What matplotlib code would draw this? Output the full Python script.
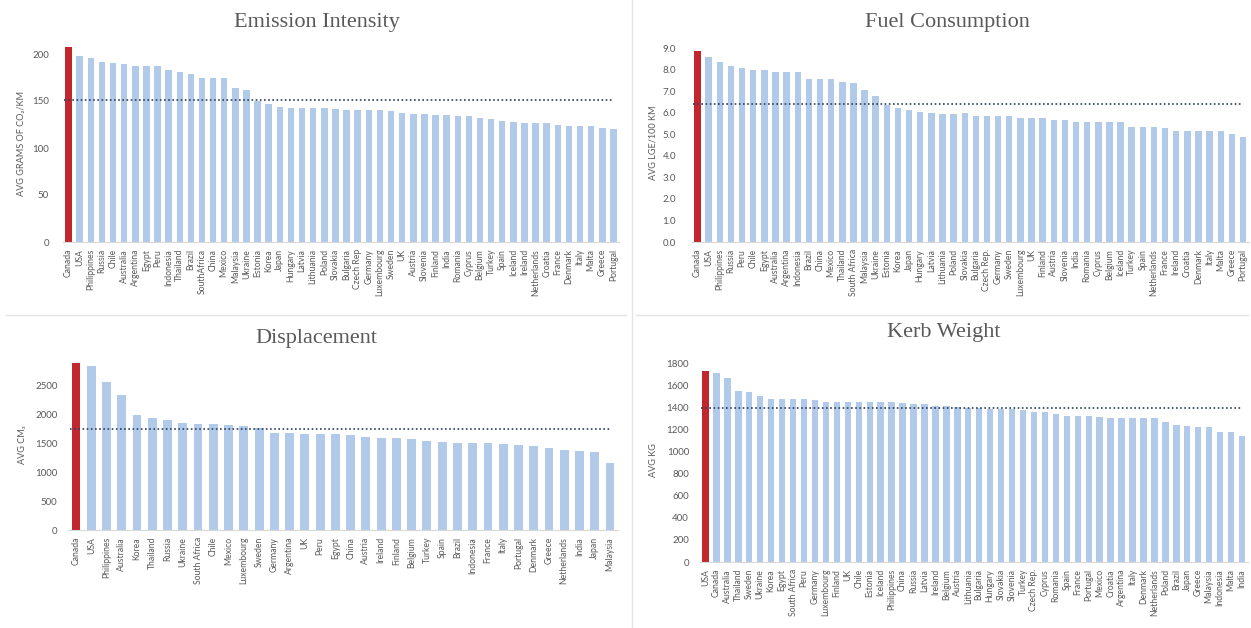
#!/usr/bin/env python3

"""Four panel bar chart comparing average vehicle figures by country."""

import matplotlib
matplotlib.use('Agg')
import matplotlib.pyplot as plt


WIDTH_PX = 1251
HEIGHT_PX = 628

emission_countries = [
    'Canada', 'USA', 'Philippines', 'Russia', 'Chile', 'Australia', 'Argentina', 'Egypt', 'Peru',
    'Indonesia', 'Thailand', 'Brazil', 'SouthAfrica', 'China', 'Mexico', 'Malaysia', 'Ukraine',
    'Estonia', 'Korea', 'Japan', 'Hungary', 'Latvia', 'Lithuania', 'Poland', 'Slovakia', 'Bulgaria',
    'Czech Rep', 'Germany', 'Luxembourg', 'Sweden', 'UK', 'Austria', 'Slovenia', 'Finland', 'India',
    'Romania', 'Cyprus', 'Belgium', 'Turkey', 'Spain', 'Iceland', 'Ireland', 'Netherlands', 'Croatia',
    'France', 'Denmark', 'Italy', 'Malta', 'Greece', 'Portugal'
]
emission_values = [
    207, 198, 196, 191, 190, 189, 187, 187, 187, 183, 181, 179, 175, 174, 174, 164, 162,
    150, 147, 144, 143, 143, 143, 143, 142, 140, 140, 140, 140, 139, 137, 136, 136, 135, 135,
    134, 134, 132, 131, 129, 128, 127, 127, 127, 124, 123, 123, 123, 121, 120
]
emission_avg = 151

fuel_countries = [
    'Canada', 'USA', 'Philippines', 'Russia', 'Peru', 'Chile', 'Egypt', 'Australia', 'Argentina',
    'Indonesia', 'Brazil', 'China', 'Mexico', 'Thailand', 'South Africa', 'Malaysia', 'Ukraine',
    'Estonia', 'Korea', 'Japan', 'Hungary', 'Latvia', 'Lithuania', 'Poland', 'Slovakia', 'Bulgaria',
    'Czech Rep.', 'Germany', 'Sweden', 'Luxembourg', 'UK', 'Finland', 'Austria', 'Slovenia', 'India',
    'Romania', 'Cyprus', 'Belgium', 'Iceland', 'Turkey', 'Spain', 'Netherlands', 'France', 'Ireland',
    'Croatia', 'Denmark', 'Italy', 'Malta', 'Greece', 'Portugal'
]
fuel_values = [
    8.87, 8.58, 8.38, 8.18, 8.07, 7.99, 7.99, 7.88, 7.88, 7.88, 7.57, 7.57, 7.57, 7.45, 7.37, 7.06, 6.79,
    6.37, 6.24, 6.14, 6.06, 5.98, 5.96, 5.96, 5.98, 5.87, 5.87, 5.87, 5.87, 5.78, 5.78, 5.78, 5.67, 5.67,
    5.59, 5.59, 5.59, 5.59, 5.56, 5.36, 5.36, 5.36, 5.29, 5.18, 5.18, 5.18, 5.18, 5.18, 5.02, 4.90
]
fuel_avg = 6.40

displacement_countries = [
    'Canada', 'USA', 'Philippines', 'Australia', 'Korea', 'Thailand', 'Russia', 'Ukraine',
    'South Africa', 'Chile', 'Mexico', 'Luxembourg', 'Sweden', 'Germany', 'Argentina', 'UK', 'Peru',
    'Egypt', 'China', 'Austria', 'Ireland', 'Finland', 'Belgium', 'Turkey', 'Spain', 'Brazil',
    'Indonesia', 'France', 'Italy', 'Portugal', 'Denmark', 'Greece', 'Netherlands', 'India', 'Japan',
    'Malaysia'
]
displacement_values = [
    2905, 2847, 2564, 2344, 1997, 1950, 1910, 1863, 1840, 1834, 1823, 1806, 1765, 1690, 1678, 1667, 1667,
    1667, 1649, 1609, 1603, 1591, 1580, 1551, 1534, 1516, 1516, 1505, 1493, 1476, 1458, 1418, 1389, 1372,
    1354, 1169
]
displacement_avg = 1748

kerb_countries = [
    'USA', 'Canada', 'Australia', 'Thailand', 'Sweden', 'Ukraine', 'Korea', 'Egypt', 'South Africa',
    'Peru', 'Germany', 'Luxembourg', 'Finland', 'UK', 'Chile', 'Estonia', 'Iceland', 'Philippines',
    'China', 'Russia', 'Latvia', 'Ireland', 'Belgium', 'Austria', 'Lithuania', 'Bulgaria', 'Hungary',
    'Slovakia', 'Slovenia', 'Turkey', 'Czech Rep.', 'Cyprus', 'Romania', 'Spain', 'France', 'Portugal',
    'Mexico', 'Croatia', 'Argentina', 'Italy', 'Denmark', 'Netherlands', 'Poland', 'Brazil', 'Japan',
    'Greece', 'Malaysia', 'Indonesia', 'Malta', 'India'
]
kerb_values = [
    1730, 1715, 1664, 1553, 1538, 1504, 1477, 1477, 1477, 1477, 1468, 1453, 1453, 1453, 1453, 1453, 1453,
    1447, 1438, 1432, 1429, 1414, 1410, 1402, 1399, 1393, 1387, 1387, 1384, 1378, 1357, 1357, 1339, 1327,
    1327, 1327, 1312, 1308, 1308, 1308, 1302, 1302, 1266, 1242, 1233, 1227, 1221, 1182, 1176, 1146
]
kerb_avg = 1393


BAR_COLOR = '#B1CAEA'
HIGHLIGHT_COLOR = '#C1272D'
AVG_COLOR = '#2E3F5C'
TEXT_COLOR = '#595959'
SANS = ['Lato', 'DejaVu Sans']
SERIF = ['Liberation Serif', 'DejaVu Serif']

# axes box in pixels (left, top, right, bottom), y range, tick step, label formats
panels = [
    {
        'title': 'Emission Intensity', 'title_xy': (317, 22),
        'ylabel': 'AVG GRAMS OF CO\u2082/KM', 'ylabel_x': 22,
        'countries': emission_countries, 'values': emission_values, 'avg': emission_avg,
        'box': (63, 44.6, 619, 242), 'ylim': (0, 210), 'ystep': 50, 'yfmt': '{:.0f}', 'ypad': 14,
    },
    {
        'title': 'Fuel Consumption', 'title_xy': (947, 22),
        'ylabel': 'AVG LGE/100 KM', 'ylabel_x': 653,
        'countries': fuel_countries, 'values': fuel_values, 'avg': fuel_avg,
        'box': (692, 44, 1248.6, 242), 'ylim': (0, 9.2), 'ystep': 1.0, 'yfmt': '{:.1f}', 'ypad': 16,
    },
    {
        'title': 'Displacement', 'title_xy': (316, 338),
        'ylabel': 'AVG CM\u2083', 'ylabel_x': 23,
        'countries': displacement_countries, 'values': displacement_values, 'avg': displacement_avg,
        'box': (68.4, 360, 617.6, 530), 'ylim': (0, 2950), 'ystep': 500, 'yfmt': '{:.0f}', 'ypad': 11,
    },
    {
        'title': 'Kerb Weight', 'title_xy': (944, 332),
        'ylabel': 'AVG KG', 'ylabel_x': 654,
        'countries': kerb_countries, 'values': kerb_values, 'avg': kerb_avg,
        'box': (700, 357.8, 1247.5, 562), 'ylim': (0, 1850), 'ystep': 200, 'yfmt': '{:.0f}', 'ypad': 11,
    },
]


def fig_box(box):
    left, top, right, bottom = box
    return [left / WIDTH_PX, 1 - bottom / HEIGHT_PX, (right - left) / WIDTH_PX, (bottom - top) / HEIGHT_PX]


def draw_panel(fig, panel):
    axes = fig.add_axes(fig_box(panel['box']))
    countries = panel['countries']
    values = panel['values']
    count = len(countries)
    colors = [HIGHLIGHT_COLOR] + [BAR_COLOR] * (count - 1)
    axes.bar(range(count), values, width=0.58, color=colors, zorder=2)
    axes.hlines(panel['avg'], -0.4, count - 1, colors=AVG_COLOR, linestyles=(0, (1, 1.5)), linewidth=1.2, zorder=3)
    axes.set_xlim(-0.5, count - 0.5)
    axes.set_ylim(*panel['ylim'])

    ticks = []
    tick = 0
    while tick <= panel['ylim'][1] + 1e-9:
        ticks.append(tick)
        tick += panel['ystep']
    axes.set_yticks(ticks)
    axes.set_yticklabels([panel['yfmt'].format(t) for t in ticks], family=SANS, fontsize=7, color=TEXT_COLOR)
    axes.set_xticks(range(count))
    axes.set_xticklabels(countries, rotation=90, family=SANS, fontsize=6.2, color=TEXT_COLOR)
    axes.tick_params(axis='x', length=0, pad=5)
    axes.tick_params(axis='y', length=0, pad=panel['ypad'] * 0.72)

    for side in ('top', 'right', 'left'):
        axes.spines[side].set_visible(False)
    axes.spines['bottom'].set_color('#D9D9D9')
    axes.spines['bottom'].set_linewidth(0.8)
    axes.set_facecolor('none')

    title_x, title_y = panel['title_xy']
    fig.text(title_x / WIDTH_PX, 1 - title_y / HEIGHT_PX, panel['title'], family=SERIF, fontsize=16,
             color=TEXT_COLOR, ha='center', va='center')
    left, top, right, bottom = panel['box']
    mid_px = bottom - (bottom - top) * 0.5
    fig.text(panel['ylabel_x'] / WIDTH_PX, 1 - mid_px / HEIGHT_PX, panel['ylabel'], family=SANS, fontsize=6.6,
             color=TEXT_COLOR, rotation=90, ha='center', va='center')


figure = plt.figure(figsize=(WIDTH_PX / 100, HEIGHT_PX / 100), dpi=100)
figure.patch.set_facecolor('white')

# faint frame lines between the four panels
figure.add_artist(plt.Line2D([632 / WIDTH_PX] * 2, [0, 1], color='#E4E4E4', linewidth=1))
figure.add_artist(plt.Line2D([6 / WIDTH_PX, 626 / WIDTH_PX], [1 - 315 / HEIGHT_PX] * 2, color='#E4E4E4', linewidth=1))
figure.add_artist(plt.Line2D([636 / WIDTH_PX, 1248 / WIDTH_PX], [1 - 315 / HEIGHT_PX] * 2, color='#E4E4E4', linewidth=1))

for panel in panels:
    draw_panel(figure, panel)

figure.savefig('out.png', dpi=100)
